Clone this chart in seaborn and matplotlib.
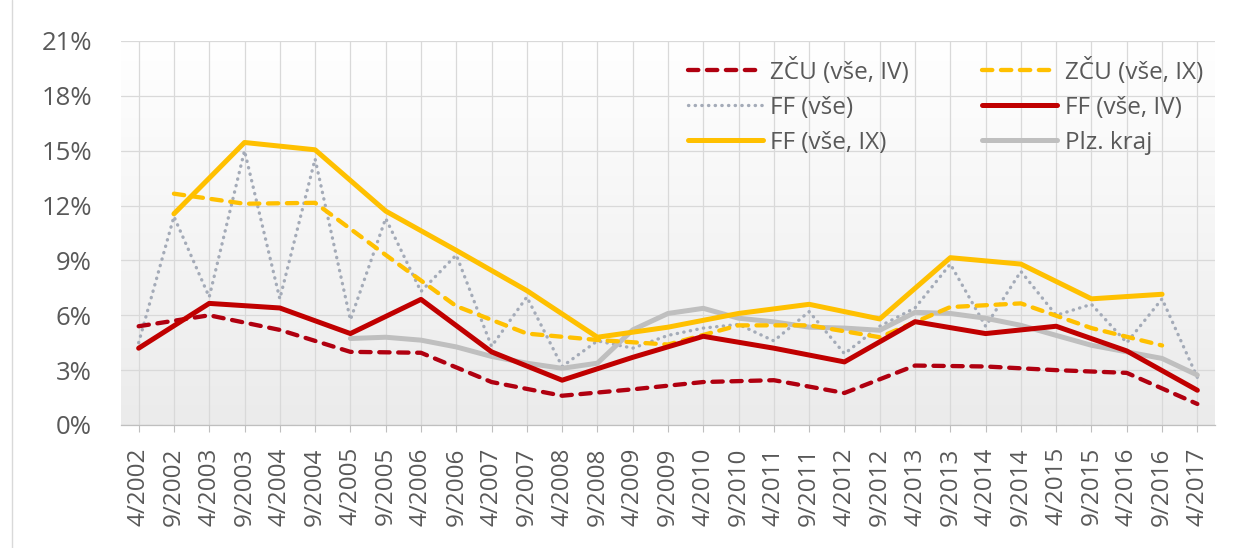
import numpy as np
import pandas as pd
import matplotlib
matplotlib.use("Agg")
import matplotlib.pyplot as plt
import seaborn as sns
from matplotlib.ticker import FuncFormatter, FixedLocator
from matplotlib.colors import LinearSegmentedColormap
from matplotlib.lines import Line2D

# ---------------- data ----------------
categories = ["4/2002", "9/2002", "4/2003", "9/2003", "4/2004", "9/2004", "4/2005", "9/2005",
              "4/2006", "9/2006", "4/2007", "9/2007", "4/2008", "9/2008", "4/2009", "9/2009",
              "4/2010", "9/2010", "4/2011", "9/2011", "4/2012", "9/2012", "4/2013", "9/2013",
              "4/2014", "9/2014", "4/2015", "9/2015", "4/2016", "9/2016", "4/2017"]

# April values (4/yyyy), 2002..2017
zcu_iv = [5.4, 6.0, 5.2, 4.0, 3.95, 2.35, 1.6, 1.95, 2.35, 2.45, 1.75, 3.25, 3.2, 3.0, 2.85, 1.15]
ff_iv = [4.2, 6.65, 6.4, 5.0, 6.87, 4.0, 2.45, 3.7, 4.85, 4.2, 3.45, 5.65, 5.0, 5.4, 4.05, 1.9]
# September values (9/yyyy), 2002..2016
zcu_ix = [12.65, 12.1, 12.15, 9.3, 6.5, 5.0, 4.65, 4.4, 5.45, 5.45, 4.8, 6.45, 6.65, 5.3, 4.35]
ff_ix = [11.55, 15.45, 15.05, 11.7, 9.55, 7.35, 4.8, 5.35, 6.1, 6.6, 5.8, 9.15, 8.8, 6.9, 7.15]
# all terms
ff_all = [4.5, 11.4, 7.0, 15.0, 6.9, 14.55, 5.75, 11.3, 7.3, 9.3, 4.3, 7.0, 3.2, 4.6, 4.2, 4.9,
          5.3, 5.5, 4.6, 6.2, 3.9, 5.4, 6.4, 8.8, 5.4, 8.4, 6.0, 6.6, 4.5, 6.9, 2.6]
# Plzeňský kraj from 4/2005
plz_kraj = [4.73, 4.8, 4.64, 4.27, 3.75, 3.38, 3.1, 3.38, 5.2, 6.1, 6.38, 5.84, 5.64, 5.35,
            5.3, 5.18, 6.16, 6.1, 5.84, 5.45, 4.9, 4.36, 4.0, 3.64, 2.73]

yticks = [0, 3, 6, 9, 12, 15, 18, 21]

# ---------------- build frames ----------------
idx = np.arange(len(categories))
apr_idx = [i for i, c in enumerate(categories) if c.startswith("4/")]
sep_idx = [i for i, c in enumerate(categories) if c.startswith("9/")]
plz_idx = list(range(categories.index("4/2005"), len(categories)))

df_zcu_iv = pd.DataFrame({"x": apr_idx, "y": zcu_iv})
df_ff_iv = pd.DataFrame({"x": apr_idx, "y": ff_iv})
df_zcu_ix = pd.DataFrame({"x": sep_idx, "y": zcu_ix})
df_ff_ix = pd.DataFrame({"x": sep_idx, "y": ff_ix})
df_ff_all = pd.DataFrame({"x": idx, "y": ff_all})
df_plz = pd.DataFrame({"x": plz_idx, "y": plz_kraj})

# ---------------- style ----------------
sns.set_theme(style="white")
plt.rcParams["font.family"] = ["Open Sans", "DejaVu Sans"]

TXT = "#595959"
DARKRED = "#B00010"
RED = "#C00000"
YELLOW = "#FFC000"
GRAY = "#BFBFBF"
DOTGRAY = "#A4ABB8"

DASH = (0, (2.4, 2.0))
DOTS = (0, (0.1, 1.9))

fig = plt.figure(figsize=(12.33, 5.48), dpi=100)
fig.patch.set_facecolor("white")
ax = fig.add_axes([121 / 1233, 1 - 425 / 548, (1215 - 121) / 1233, (425 - 41) / 548])

# gradient plot-area background
cmap = LinearSegmentedColormap.from_list("bg", ["#ebebeb", "#ffffff"])
grad = np.linspace(0, 1, 256).reshape(-1, 1)
ax.imshow(grad, extent=[0, 1, 0, 1], transform=ax.transAxes, origin="lower",
          aspect="auto", cmap=cmap, zorder=0)

lw_solid = 3.6
lw_dash = 3.1
lw_dot = 2.4

sns.lineplot(data=df_ff_all, x="x", y="y", ax=ax, color=DOTGRAY, linewidth=lw_dot,
             linestyle=DOTS, dash_capstyle="round", zorder=3)
sns.lineplot(data=df_plz, x="x", y="y", ax=ax, color=GRAY, linewidth=lw_solid,
             solid_capstyle="round", solid_joinstyle="round", zorder=4)
sns.lineplot(data=df_zcu_ix, x="x", y="y", ax=ax, color=YELLOW, linewidth=lw_dash,
             linestyle=DASH, dash_capstyle="round", zorder=5)
sns.lineplot(data=df_zcu_iv, x="x", y="y", ax=ax, color=DARKRED, linewidth=lw_dash,
             linestyle=DASH, dash_capstyle="round", zorder=5)
sns.lineplot(data=df_ff_ix, x="x", y="y", ax=ax, color=YELLOW, linewidth=lw_solid,
             solid_capstyle="round", solid_joinstyle="round", zorder=6)
sns.lineplot(data=df_ff_iv, x="x", y="y", ax=ax, color=RED, linewidth=lw_solid,
             solid_capstyle="round", solid_joinstyle="round", zorder=7)

# axes limits and ticks
ax.set_xlim(-0.5, len(categories) - 0.5)
ax.set_ylim(0, 21)
ax.set_xlabel("")
ax.set_ylabel("")
ax.xaxis.set_major_locator(FixedLocator(idx))
ax.set_xticklabels(categories, rotation=90, color=TXT, fontsize=17.5)
ax.yaxis.set_major_locator(FixedLocator(yticks))
ax.yaxis.set_major_formatter(FuncFormatter(lambda v, p: f"{v:.0f}%"))
for t in ax.get_yticklabels():
    t.set_color(TXT)
    t.set_fontsize(18.5)

ax.tick_params(axis="y", length=0, pad=21)
ax.tick_params(axis="x", length=5, width=0.8, color="#BFBFBF", pad=11, direction="out", bottom=True)

ax.grid(True, axis="both", color="#D9D9D9", linewidth=0.9, zorder=1)
ax.set_axisbelow(True)
for s in ["top", "right", "left"]:
    ax.spines[s].set_visible(False)
ax.spines["bottom"].set_color("#BFBFBF")
ax.spines["bottom"].set_linewidth(0.9)

# legend (row-wise order as in reference)
if ax.get_legend() is not None:
    ax.get_legend().remove()

h_zcu_iv = Line2D([], [], color=DARKRED, linewidth=lw_dash, linestyle=DASH, dash_capstyle="round")
h_zcu_ix = Line2D([], [], color=YELLOW, linewidth=lw_dash, linestyle=DASH, dash_capstyle="round")
h_ff_all = Line2D([], [], color=DOTGRAY, linewidth=lw_dot, linestyle=DOTS, dash_capstyle="round")
h_ff_iv = Line2D([], [], color=RED, linewidth=lw_solid, solid_capstyle="round")
h_ff_ix = Line2D([], [], color=YELLOW, linewidth=lw_solid, solid_capstyle="round")
h_plz = Line2D([], [], color=GRAY, linewidth=lw_solid, solid_capstyle="round")

handles = [h_zcu_iv, h_ff_all, h_ff_ix, h_zcu_ix, h_ff_iv, h_plz]
labels = ["ZČU (vše, IV)", "FF (vše)", "FF (vše, IX)", "ZČU (vše, IX)", "FF (vše, IV)", "Plz. kraj"]
leg = fig.legend(handles, labels, ncol=2, loc="upper right",
                 bbox_to_anchor=(1203 / 1233, 1 - 58 / 548), bbox_transform=fig.transFigure,
                 frameon=False, fontsize=17.5, handlelength=3.1, handletextpad=0.3,
                 columnspacing=3.0, labelspacing=0.45, borderpad=0, borderaxespad=0)
for t in leg.get_texts():
    t.set_color(TXT)

# left chart border
fig.add_artist(Line2D([12 / 1233, 12 / 1233], [0, 1], transform=fig.transFigure,
                      color="#D9D9D9", linewidth=1.0))

fig.savefig("out.png", dpi=100, facecolor="white")
